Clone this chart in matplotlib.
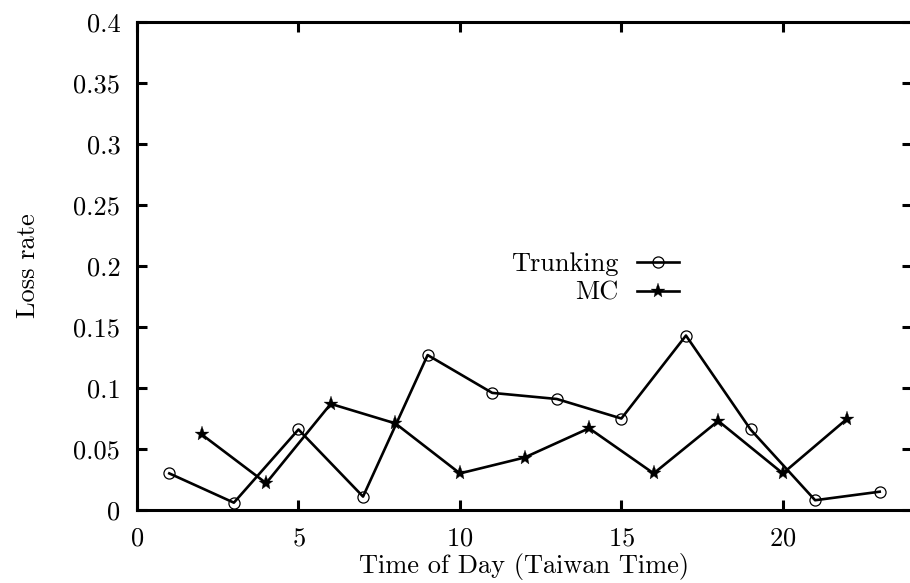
import numpy as np
import matplotlib
matplotlib.use("Agg")
import matplotlib.pyplot as plt
from matplotlib.ticker import FuncFormatter

# LaTeX-looking text (cmr10 ships with matplotlib)
plt.rcParams['font.family'] = 'serif'
plt.rcParams['font.serif'] = ['cmr10']
plt.rcParams['mathtext.fontset'] = 'cm'
plt.rcParams['axes.formatter.use_mathtext'] = True

#------DATA-------#
hours_trunk = [1, 3, 5, 7, 9, 11, 13, 15, 17, 19, 21, 23]
loss_trunk = [0.030, 0.006, 0.066, 0.011, 0.127, 0.096,
              0.091, 0.075, 0.143, 0.066, 0.008, 0.015]

hours_mc = [2, 4, 6, 8, 10, 12, 14, 16, 18, 20, 22]
loss_mc = [0.062, 0.022, 0.087, 0.071, 0.030, 0.043,
           0.067, 0.030, 0.073, 0.030, 0.075]

x_ticks = [0, 5, 10, 15, 20]
y_ticks = np.arange(0, 0.401, 0.05)

fs = 19

fig = plt.figure(figsize=(9.1, 5.83), dpi=100)
ax = fig.add_axes([137/910, 1 - 510/583, (912 - 137)/910, (510 - 22)/583])

ax.plot(hours_trunk, loss_trunk, color='black', lw=1.9, marker='o', ms=8,
        mfc='none', mec='black', mew=0.9, label='Trunking')
ax.plot(hours_mc, loss_mc, color='black', lw=1.9, marker='*', ms=11,
        mfc='black', mec='black', mew=0.2, label='MC')

ax.set_xlim(0, 24)
ax.set_ylim(0, 0.4)
ax.set_xticks(x_ticks)
ax.set_yticks(y_ticks)
ax.yaxis.set_major_formatter(FuncFormatter(lambda v, p: '%g' % round(v, 2)))

for s in ax.spines.values():
    s.set_linewidth(2.2)
ax.tick_params(direction='in', length=7.5, width=2.2, top=True, right=True,
               labelsize=fs, pad=12)

ax.set_xlabel('Time of Day (Taiwan Time)', fontsize=fs, labelpad=2)
ax.set_ylabel('Loss rate', fontsize=fs, labelpad=24)

#legend, text on the left of the sample line
leg = ax.legend(loc='center right', bbox_to_anchor=(679/910, 1 - 278.5/583),
                bbox_transform=fig.transFigure, markerfirst=False, frameon=False,
                fontsize=fs, handlelength=1.6, handletextpad=0.7,
                labelspacing=0.2, borderpad=0, borderaxespad=0)

fig.savefig('out.png', dpi=100)
